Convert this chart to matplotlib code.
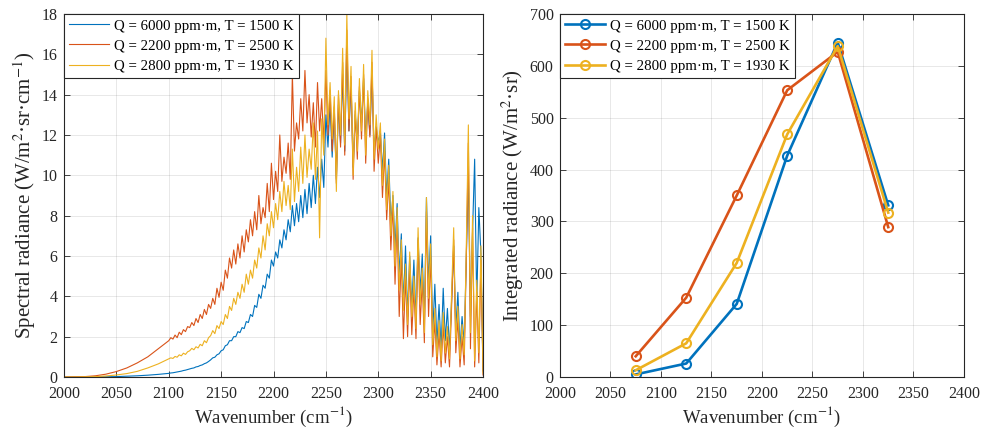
import numpy as np
import matplotlib
matplotlib.use("Agg")
import matplotlib.pyplot as plt

plt.rcParams['font.family'] = ['Liberation Serif', 'DejaVu Serif']
plt.rcParams['mathtext.fontset'] = 'stix'

# wavenumber grid (cm^-1): coarse where the spectrum is smooth, 2 cm^-1 after 2100
wn = np.concatenate([np.arange(2000, 2100, 10), np.arange(2100, 2401, 2)])

# spectral radiance, W/(m^2 sr cm^-1)
spec_q6000 = [
    0.00, 0.00, 0.00, 0.00, 0.01, 0.02, 0.04, 0.06, 0.09, 0.13,
    # 2100 - 2248
    0.18, 0.20, 0.21, 0.23, 0.25, 0.27, 0.29, 0.32, 0.34, 0.37,
    0.40, 0.43, 0.45, 0.50, 0.52, 0.57, 0.60, 0.66, 0.70, 0.77,
    0.85, 0.95, 0.98, 1.10, 1.15, 1.30, 1.35, 1.55, 1.60, 1.80,
    1.80, 2.00, 2.00, 2.25, 2.20, 2.45, 2.40, 2.75, 2.70, 3.10,
    3.00, 3.55, 3.45, 4.10, 3.90, 4.55, 4.40, 5.10, 4.90, 5.80,
    5.50, 6.20, 5.90, 6.80, 6.40, 7.30, 6.80, 7.80, 7.20, 8.50,
    7.50, 8.60, 7.70, 9.00, 7.90, 9.30, 8.10, 9.60, 8.40, 10.00,
    8.60, 10.40, 8.90, 10.80, 9.40,
    # 2250 - 2400
    13.0, 11.4, 13.6, 10.9, 13.2, 9.8, 13.5, 11.6, 15.0, 11.2,
    16.5, 12.2, 14.6, 10.4, 13.0, 11.6, 14.2, 12.6, 14.8, 11.8,
    13.6, 12.0, 15.2, 11.2, 12.4, 11.6, 12.2, 10.2, 12.1, 8.9,
    10.8, 7.6, 9.0, 6.4, 8.6, 5.0, 7.1, 3.6, 6.5, 3.0,
    6.0, 3.5, 5.8, 2.8, 6.9, 4.2, 6.1, 2.6, 8.9, 4.6,
    7.0, 2.2, 4.6, 1.6, 3.6, 1.4, 4.4, 1.8, 3.4, 1.3,
    3.8, 6.5, 2.4, 4.2, 1.4, 3.0, 1.6, 5.8, 10.1, 3.0,
    7.2, 10.8, 3.6, 8.4, 6.1, 0.3,
]
spec_q2200 = [
    0.00, 0.01, 0.02, 0.06, 0.14, 0.27, 0.45, 0.70, 1.00, 1.40,
    # 2100 - 2248
    1.80, 1.95, 1.88, 2.08, 1.95, 2.22, 2.10, 2.35, 2.25, 2.50,
    2.45, 2.70, 2.55, 2.90, 2.70, 3.10, 2.90, 3.35, 3.10, 3.60,
    3.40, 3.90, 3.60, 4.40, 3.95, 4.70, 4.30, 5.30, 4.90, 5.90,
    5.40, 6.30, 5.60, 6.60, 5.90, 7.00, 6.20, 7.30, 6.70, 7.80,
    7.00, 8.20, 7.30, 9.00, 7.60, 8.40, 7.90, 9.60, 8.20, 10.60,
    8.80, 10.20, 9.20, 12.00, 9.70, 10.90, 10.10, 11.60, 9.80, 15.00,
    11.20, 12.60, 11.80, 13.80, 12.20, 15.20, 12.60, 14.00, 11.90, 13.60,
    11.40, 14.60, 12.20, 13.80, 11.60,
    # 2250 - 2400
    15.2, 12.0, 14.2, 11.2, 13.4, 9.6, 14.0, 11.4, 15.6, 11.0,
    17.2, 12.2, 14.9, 9.8, 13.2, 10.8, 14.4, 11.8, 15.0, 10.6,
    13.8, 11.9, 15.6, 10.2, 12.4, 10.6, 12.0, 8.9, 11.2, 7.8,
    9.8, 6.3, 8.6, 4.6, 7.8, 3.0, 6.0, 1.9, 5.0, 2.0,
    5.6, 2.1, 4.4, 1.9, 6.8, 2.6, 4.8, 1.7, 8.2, 3.0,
    6.0, 1.0, 2.8, 0.6, 2.2, 0.5, 2.6, 0.7, 2.0, 0.5,
    3.5, 6.8, 1.2, 2.9, 0.5, 2.0, 0.6, 5.8, 11.6, 1.4,
    7.4, 0.5, 4.2, 0.7, 5.8, 0.1,
]
spec_q2800 = [
    0.00, 0.00, 0.01, 0.02, 0.05, 0.10, 0.17, 0.28, 0.45, 0.65,
    # 2100 - 2248
    0.90, 0.95, 0.92, 1.02, 0.98, 1.10, 1.05, 1.18, 1.12, 1.25,
    1.30, 1.42, 1.35, 1.50, 1.44, 1.62, 1.55, 1.80, 1.70, 1.95,
    2.05, 2.30, 2.15, 2.55, 2.40, 2.75, 2.60, 3.10, 2.90, 3.50,
    3.30, 3.90, 3.60, 4.20, 3.90, 4.60, 4.20, 5.10, 4.60, 5.30,
    4.90, 5.80, 5.40, 6.40, 5.90, 7.00, 6.30, 7.60, 7.00, 8.20,
    7.40, 8.60, 7.80, 9.20, 8.20, 9.70, 8.50, 9.50, 8.30, 11.30,
    8.70, 10.40, 9.20, 11.40, 9.60, 12.00, 9.90, 11.30, 10.30, 12.60,
    9.80, 12.20, 6.90, 12.80, 11.00,
    # 2250 - 2400
    16.8, 12.5, 14.6, 11.8, 13.9, 9.2, 14.2, 12.0, 16.3, 11.5,
    18.0, 12.8, 15.4, 10.0, 13.6, 11.2, 14.8, 12.2, 15.5, 11.0,
    14.2, 12.5, 16.2, 10.8, 13.0, 11.3, 12.6, 9.5, 11.8, 8.3,
    10.5, 7.0, 9.2, 5.5, 8.4, 4.3, 6.8, 3.3, 5.6, 2.6,
    6.2, 3.0, 5.0, 2.4, 7.4, 3.6, 5.4, 2.2, 8.9, 3.9,
    6.6, 1.6, 3.4, 1.0, 2.8, 0.8, 3.2, 1.2, 2.5, 0.9,
    4.1, 7.4, 1.8, 3.5, 0.9, 2.6, 1.1, 6.4, 12.5, 2.2,
    8.0, 0.8, 4.8, 1.2, 6.5, 0.2,
]

# band-integrated radiance, W/(m^2 sr), 50 cm^-1 bands
band_centre = [2075, 2125, 2175, 2225, 2275, 2325]
int_q6000 = [5, 26, 141, 427, 645, 331]
int_q2200 = [40, 153, 350, 553, 627, 289]
int_q2800 = [13, 65, 220, 468, 638, 317]

labels = ['Q = 6000 ppm·m, T = 1500 K',
          'Q = 2200 ppm·m, T = 2500 K',
          'Q = 2800 ppm·m, T = 1930 K']
colors = ['#0072BD', '#D95319', '#EDB120']

fig = plt.figure(figsize=(9.89, 4.37), dpi=100)
ax1 = fig.add_axes([0.0647, 0.1373, 0.4237, 0.8307])
ax2 = fig.add_axes([0.5662, 0.1373, 0.4085, 0.8307])


def style(ax):
    ax.grid(True, color='#262626', alpha=0.12, linewidth=0.6)
    ax.set_axisbelow(True)
    for s in ax.spines.values():
        s.set_color('#262626')
        s.set_linewidth(0.8)
    ax.tick_params(direction='in', length=4, width=0.6, colors='#262626',
                   labelsize=11.5, top=True, right=True)
    ax.tick_params(axis='x', pad=6.5)
    ax.tick_params(axis='y', pad=4.5)
    ax.set_xlim(2000, 2400)
    ax.set_xticks(np.arange(2000, 2401, 50))
    ax.set_xlabel('Wavenumber (cm$^{-1}$)', fontsize=13.5, color='#262626',
                  labelpad=2)


for y, c, lab in zip([spec_q6000, spec_q2200, spec_q2800], colors, labels):
    ax1.plot(wn, y, color=c, lw=0.8, label=lab)
style(ax1)
ax1.set_ylim(0, 18)
ax1.set_yticks(np.arange(0, 19, 2))
ax1.set_ylabel('Spectral radiance (W/m$^2$·sr·cm$^{-1}$)', fontsize=15,
               color='#262626', labelpad=3)

for y, c, lab in zip([int_q6000, int_q2200, int_q2800], colors, labels):
    ax2.plot(band_centre, y, color=c, lw=1.9, marker='o', ms=6.5,
             mfc='none', mew=1.5, label=lab)
style(ax2)
ax2.set_ylim(0, 700)
ax2.set_yticks(np.arange(0, 701, 100))
ax2.set_ylabel('Integrated radiance (W/m$^2$·sr)', fontsize=15,
               color='#262626', labelpad=3)

for ax in (ax1, ax2):
    leg = ax.legend(loc='upper left', fontsize=10.7, frameon=True, fancybox=False,
                    borderaxespad=0, handlelength=2.7, handletextpad=0.3,
                    borderpad=0.35, labelspacing=0.45, framealpha=1)
    leg.get_frame().set_edgecolor('#262626')
    leg.get_frame().set_linewidth(0.8)

fig.savefig('out.png', dpi=100)
